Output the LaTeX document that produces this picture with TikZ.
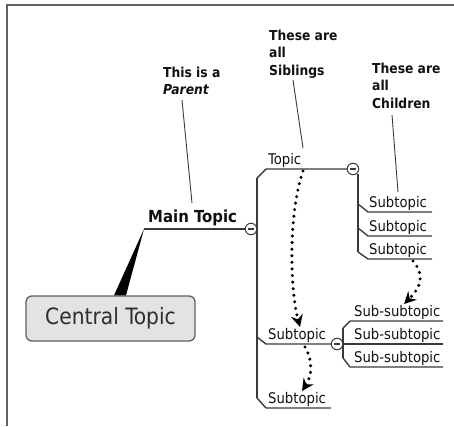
\documentclass[tikz,border=0pt]{standalone}
\usepackage{fontspec}
\IfFontExistsTF{DejaVu Sans Condensed}{\setmainfont{DejaVu Sans Condensed}}{\setmainfont{DejaVu Sans}}
\usetikzlibrary{arrows.meta}
\definecolor{linegray}{HTML}{3A3A3A}
\definecolor{framegray}{HTML}{606060}
\definecolor{textblack}{HTML}{111111}
\definecolor{boxfill}{HTML}{E3E3E3}
\definecolor{boxtext}{HTML}{2E2E2E}
\tikzset{
  topicline/.style={draw=linegray, line width=1.4pt},
  pointer/.style={draw=linegray, line width=0.9pt},
  subtext/.style={font=\fontsize{14.7}{17}\selectfont, inner sep=0pt, anchor=base west, text=textblack},
  maintext/.style={font=\bfseries\fontsize{16.6}{19}\selectfont, inner sep=0pt, anchor=base west, text=textblack},
  notetext/.style={font=\bfseries\fontsize{13.7}{17.5}\selectfont, align=left, inner sep=0pt, anchor=north west, text=textblack},
  centralbox/.style={draw=framegray, fill=boxfill, line width=1.3pt, rounded corners=6pt,
    minimum width=169pt, minimum height=45pt, inner sep=0pt, text=boxtext, font=\fontsize{22.5}{26}\selectfont},
  toggle/.style={circle, draw=linegray, fill=white, line width=1pt, minimum size=11.5pt, inner sep=0pt,
    path picture={\draw[linegray, line width=1.1pt] ([xshift=-3pt]path picture bounding box.center) -- ([xshift=3pt]path picture bounding box.center);}},
  flow/.style={line width=3.4pt, dash pattern=on 0pt off 6.6pt, line cap=round,
    -{Stealth[length=12pt,width=12pt,inset=4pt]}}
}
\begin{document}
\begin{tikzpicture}[x=1pt,y=-1pt]
\useasboundingbox (0,0) rectangle (454,426);
% frame
\coordinate (frBL) at (7,426);
\coordinate (frTL) at (7,5);
\coordinate (frTR) at (454,5);
\draw[framegray, line width=1.5pt] (frBL) -- (frTL) -- (frTR);

% central topic
\node[centralbox] (central) at (110.5,318.5) {Central Topic};

% main topic
\node[maintext] (main) at (148,222) {Main Topic};
\node[toggle] (tg1) at (251,229) {};
\coordinate (mL) at (144,229);
\fill[black] (mL) -- ([xshift=3.5pt]central.north) -- ([xshift=15.5pt]central.north) -- cycle;
\draw[topicline] (mL) -- (tg1.west);

% main vertical
\coordinate (vTop) at (257,178);
\coordinate (vMid) at (257,337);
\coordinate (vBot) at (257,398);
\draw[topicline] (vTop) -- (vBot);

% Topic
\node[subtext] (topic) at (268,164) {Topic};
\node[toggle] (tg2) at (353,169) {};
\draw[topicline] (vTop) -- ++(9,-9) -- (tg2.west);

% children of Topic
\coordinate (kTop) at (358,174);
\coordinate (k1) at (358,204);
\coordinate (k2) at (358,228);
\coordinate (k3) at (358,252);
\draw[topicline] (kTop) -- (k3);
\node[subtext] (sub1) at (369,207) {Subtopic};
\node[subtext] (sub2) at (369,231) {Subtopic};
\node[subtext] (sub3) at (369,254) {Subtopic};
\draw[topicline] (k1) -- ++(10,8) -- ++(64,0);
\draw[topicline] (k2) -- ++(10,8) -- ++(64,0);
\draw[topicline] (k3) -- ++(10,7) -- ++(64,0);

% middle Subtopic
\node[subtext] (subm) at (268,339) {Subtopic};
\node[toggle] (tg3) at (337,344) {};
\draw[topicline] (vMid) -- ++(9,7) -- (tg3.west);

% sub-subtopics
\coordinate (sTop) at (343,328);
\coordinate (sBot) at (343,358);
\coordinate (sEnd) at (443,344);
\draw[topicline] (sTop) -- (sBot);
\node[subtext] (ss1) at (354,316) {Sub-subtopic};
\node[subtext] (ss2) at (354,339) {Sub-subtopic};
\node[subtext] (ss3) at (354,362) {Sub-subtopic};
\draw[topicline] (sTop) -- ++(7,-7) -- ++(93,0);
\draw[topicline] (tg3.east) -- (sEnd);
\draw[topicline] (sBot) -- ++(7,9) -- ++(93,0);

% bottom Subtopic
\node[subtext] (subb) at (268,403) {Subtopic};
\draw[topicline] (vBot) -- ++(9,10) -- ++(65,0);

% notes
\node[notetext] (noteParent) at (163,66.6) {This is a\\\textit{Parent}};
\node[notetext] (noteSib) at (269,29.6) {These are\\all\\Siblings};
\node[notetext] (noteChild) at (372,62.6) {These are\\all\\Children};
\coordinate (pA) at (182,100);
\coordinate (pB) at (192,203);
\coordinate (sA) at (293,80);
\coordinate (sB) at (303,148);
\coordinate (cA) at (392,115);
\coordinate (cB) at (398,192);
\draw[pointer] (pA) -- (pB);
\draw[pointer] (sA) -- (sB);
\draw[pointer] (cA) -- (cB);

% dotted flow arrows
\coordinate (f1s) at (303,171);
\coordinate (f1e) at (300,327);
\coordinate (f2s) at (413,261);
\coordinate (f2e) at (404,304);
\coordinate (f3s) at (305,347);
\coordinate (f3e) at (302,391);
\draw[flow] (f1s) .. controls (288,215) and (290,290) .. (f1e);
\draw[flow] (f2s) .. controls (425,275) and (421,287) .. (f2e);
\draw[flow] (f3s) .. controls (313,360) and (312,376) .. (f3e);
\end{tikzpicture}
\end{document}
